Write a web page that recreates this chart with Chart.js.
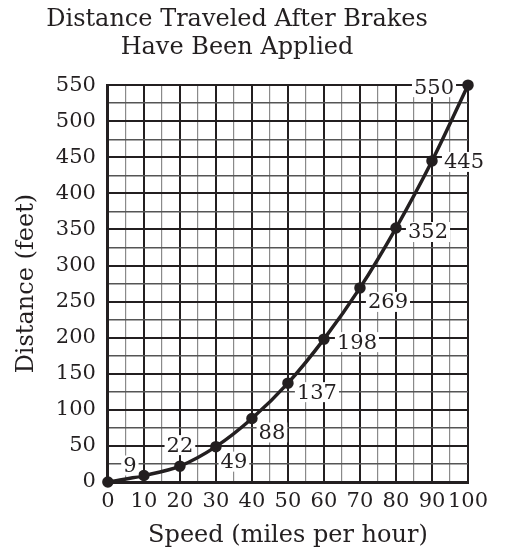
<!DOCTYPE html>
<html>
<head>
<meta charset="utf-8">
<script src="https://cdn.jsdelivr.net/npm/chart.js@4"></script>
<style>
  html, body { margin: 0; padding: 0; background: #fff; }
  #wrap { width: 509px; height: 548px; }
</style>
</head>
<body>
<div id="wrap"><canvas id="myChart" width="509" height="548"></canvas></div>
<script>
const speeds = [0, 10, 20, 30, 40, 50, 60, 70, 80, 90, 100];
const distances = [0, 9, 22, 49, 88, 137, 198, 269, 352, 445, 550];
const pointLabels = ['', '9', '22', '49', '88', '137', '198', '269', '352', '445', '550'];
// pixel offsets of each value label from its point
const labelOffsets = [[0, 0], [-14, -10], [0, -21], [18, 15], [20, 14], [29, 9], [33, 3], [28, 14], [32, 4], [32, 1], [-34, 2]];

const serif = "'DejaVu Serif', serif";
const ink = '#231f20';

const valueLabels = {
    id: 'valueLabels',
    afterDatasetsDraw(chart) {
        const c = chart.ctx;
        const meta = chart.getDatasetMeta(0);
        c.save();
        c.font = `21px ${serif}`;
        c.textAlign = 'center';
        c.textBaseline = 'middle';
        meta.data.forEach((pt, i) => {
            const txt = pointLabels[i];
            if (!txt) return;
            const x = pt.x + labelOffsets[i][0];
            const y = pt.y + labelOffsets[i][1];
            const w = c.measureText(txt).width;
            c.fillStyle = '#fff';
            c.fillRect(x - w / 2 - 2, y - 10, w + 4, 20);
            c.fillStyle = ink;
            c.fillText(txt, x, y + 1);
        });
        c.restore();
    }
};

const ctx = document.getElementById('myChart').getContext('2d');
let chart = new Chart(ctx, {
    type: 'line',
    data: {
        datasets: [{
            data: speeds.map((s, i) => ({x: s, y: distances[i]})),
            borderColor: ink,
            backgroundColor: ink,
            borderWidth: 3.5,
            pointRadius: 4,
            pointHoverRadius: 4,
            cubicInterpolationMode: 'monotone',
            clip: false,
        }],
    },
    options: {
        responsive: false,
        animation: false,
        layout: {padding: {left: 6, right: 41, top: 6, bottom: 0}},
        plugins: {
            legend: {display: false},
            tooltip: {enabled: false},
            title: {
                display: true,
                text: ['Distance Traveled After Brakes', 'Have Been Applied'],
                color: ink,
                font: {family: serif, size: 24, weight: 'normal', lineHeight: 1.17},
                padding: {top: 0, bottom: 23},
            },
        },
        scales: {
            x: {
                type: 'linear',
                min: 0,
                max: 100,
                ticks: {
                    stepSize: 5,
                    autoSkip: false,
                    maxRotation: 0,
                    color: ink,
                    padding: 7,
                    font: {family: serif, size: 21},
                    callback: v => (v % 10 === 0 ? String(v) : ''),
                },
                grid: {
                    drawTicks: false,
                    color: c => (c.tick && c.tick.value % 10 === 0 ? ink : '#8a8a8a'),
                    lineWidth: c => (c.tick && c.tick.value % 10 === 0 ? 2 : 1.2),
                },
                border: {color: ink, width: 3},
                title: {
                    display: true,
                    text: 'Speed (miles per hour)',
                    color: ink,
                    font: {family: serif, size: 24},
                    padding: {top: 0, bottom: -2},
                },
            },
            y: {
                min: 0,
                max: 550,
                ticks: {
                    stepSize: 25,
                    autoSkip: false,
                    color: ink,
                    padding: 12,
                    font: {family: serif, size: 21},
                    callback: v => (v % 50 === 0 ? String(v) : ''),
                },
                grid: {
                    drawTicks: false,
                    color: c => (c.tick && c.tick.value % 50 === 0 ? ink : '#555'),
                    lineWidth: c => (c.tick && c.tick.value % 50 === 0 ? 2 : 1.4),
                },
                border: {color: ink, width: 3},
                title: {
                    display: true,
                    text: 'Distance (feet)',
                    color: ink,
                    font: {family: serif, size: 24},
                    padding: {top: 6, bottom: 3},
                },
            },
        },
    },
    plugins: [valueLabels],
});
</script>
</body>
</html>
